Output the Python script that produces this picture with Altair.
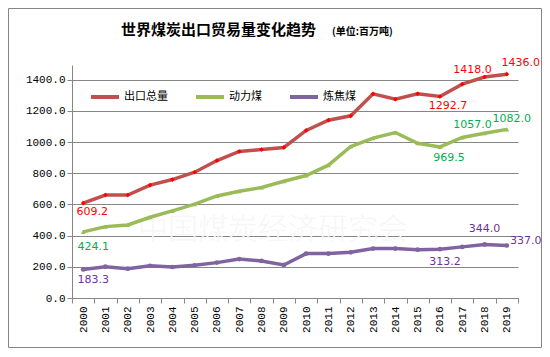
import altair as alt
import pandas as pd

years = ["2000", "2001", "2002", "2003", "2004", "2005", "2006", "2007", "2008", "2009",
         "2010", "2011", "2012", "2013", "2014", "2015", "2016", "2017", "2018", "2019"]
series_names = ["出口总量", "动力煤", "炼焦煤"]
total = [609.2, 661, 661, 724, 760, 807, 882, 940, 953, 966,
         1075, 1141, 1169, 1310, 1276, 1310, 1292.7, 1372, 1418.0, 1436.0]
steam = [424.1, 458, 469, 518, 559, 602, 655, 685, 709, 749,
         786, 852, 972, 1026, 1062, 993, 969.5, 1030, 1057.0, 1082.0]
coking = [183.3, 201, 188, 207, 199, 210, 227, 250, 238, 212,
          285, 285, 293, 317, 317, 310, 313.2, 328, 344.0, 337.0]
y_ticks = [0, 200, 400, 600, 800, 1000, 1200, 1400]
title_main = "世界煤炭出口贸易量变化趋势"
title_unit = "(单位:百万吨)"
watermark = "中国煤炭经济研究会"

line_colors = ["#C0504D", "#9BBB59", "#8064A2"]
marker_colors = ["#FF0000", "#9BBB59", "#8064A2"]
label_colors = ["#FF0000", "#00B050", "#7030A0"]

rows = []
for name, vals in zip(series_names, [total, steam, coking]):
    for yr, v in zip(years, vals):
        rows.append({"year": yr, "value": v, "series": name})
df = pd.DataFrame(rows)

W, H = 446, 233

xenc = alt.X("year:N", title=None, bandPosition=0.5,
             scale=alt.Scale(type="band", domain=years, paddingInner=0, paddingOuter=0),
             axis=alt.Axis(labelAngle=270, tickBand="extent", tickSize=5, labelPadding=3,
                           labelFont="Liberation Mono", labelFontSize=11, labelColor="#000000",
                           domainColor="#868686", tickColor="#868686", grid=False,
                           labelAlign="right", labelBaseline="middle"))
yenc = alt.Y("value:Q", title=None,
             scale=alt.Scale(domain=[0, 1495], nice=False, zero=True),
             axis=alt.Axis(values=y_ticks, format=".1f", tickSize=5, labelPadding=2,
                           labelFont="Liberation Mono", labelFontSize=11, labelColor="#000000",
                           domainColor="#868686", tickColor="#868686", gridColor="#868686",
                           gridWidth=1))
color = alt.Color("series:N", title=None,
                  scale=alt.Scale(domain=series_names, range=line_colors),
                  legend=alt.Legend(orient="none", direction="horizontal", legendX=17, legendY=16,
                                    symbolType="stroke", symbolStrokeWidth=4, symbolSize=784,
                                    labelFont="Noto Sans CJK SC", labelFontSize=11,
                                    labelColor="#000000", columnPadding=20, labelOffset=3,
                                    padding=0))

base = alt.Chart(df)
lines = base.mark_line(strokeWidth=3.5).encode(x=xenc, y=yenc, color=color, order="year:N")

pts = []
shapes = ["diamond", "triangle-up", "circle"]
sizes = [22, 22, 22]
for name, shp, mc, sz in zip(series_names, shapes, marker_colors, sizes):
    pts.append(
        base.transform_filter(alt.datum.series == name)
        .mark_point(shape=shp, filled=True, color=mc, size=sz, opacity=1)
        .encode(x=xenc, y=yenc)
    )

# labels: (series index, year index, dx, dy)
label_specs = [
    (0, 0, 9, 9), (1, 0, 10, 15), (2, 0, 10, 11),
    (0, 16, 8, 9), (1, 16, 9, 11), (2, 16, 5, 13),
    (0, 18, -12, -7), (1, 18, -12, -8), (2, 18, 0, -15),
    (0, 19, 14, -11), (1, 19, 5, -10), (2, 19, 19, -4),
]
series_vals = [total, steam, coking]
labels = []
for si, yi, dx, dy in label_specs:
    v = series_vals[si][yi]
    ldf = pd.DataFrame({"year": [years[yi]], "value": [v], "txt": [f"{v:.1f}"]})
    labels.append(
        alt.Chart(ldf).mark_text(font="DejaVu Sans", fontSize=11, color=label_colors[si],
                                 dx=dx, dy=dy, align="center", baseline="middle")
        .encode(x=xenc, y=yenc, text="txt:N")
    )

one = pd.DataFrame({"a": [0]})
border = alt.Chart(one).mark_rect(fill=None, stroke="#868686", strokeWidth=1).encode(
    x=alt.value(-63.5), x2=alt.value(469.5), y=alt.value(-56.5), y2=alt.value(282.5))
wm = alt.Chart(one).mark_text(text=watermark, font="Noto Sans CJK SC", fontSize=30,
                              fontWeight=300, color="#f6f6f6", align="left",
                              baseline="middle").encode(x=alt.value(66), y=alt.value(165))
t1 = alt.Chart(one).mark_text(text=title_main, font="Noto Sans CJK SC", fontSize=15,
                              fontWeight="bold", color="#000000", align="left",
                              baseline="middle").encode(x=alt.value(49), y=alt.value(-35))
t2 = alt.Chart(one).mark_text(text=title_unit, font="Noto Sans CJK SC", fontSize=10,
                              fontWeight="bold", color="#000000", align="left",
                              baseline="middle").encode(x=alt.value(260), y=alt.value(-33))

chart = alt.layer(wm, lines, *pts, *labels, border, t1, t2).properties(
    width=W, height=H,
    autosize=alt.AutoSizeParams(type="none"),
    padding={"left": 64, "top": 57, "right": 24, "bottom": 50},
    background="#ffffff",
).configure_view(stroke=None)

chart.save("out.html", embed_options={"renderer": "svg", "actions": False})
